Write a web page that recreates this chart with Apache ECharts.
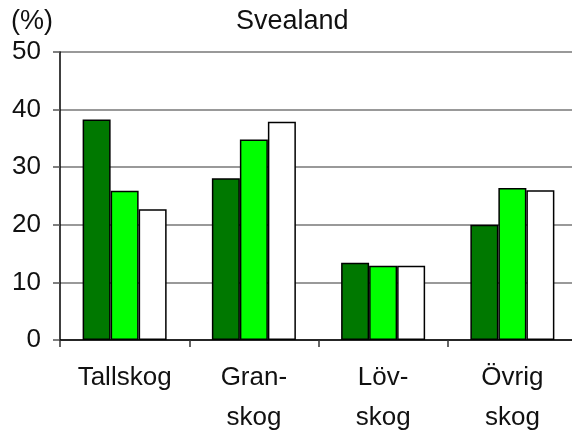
<!DOCTYPE html>
<html><head><meta charset="utf-8">
<script src="https://cdn.jsdelivr.net/npm/echarts@6/dist/echarts.min.js"></script>
<style>html,body{margin:0;padding:0;background:#fff}#c{width:572px;height:433px}</style>
</head><body><div id="c"></div>
<script>
var categories = ["Tallskog", "Gran-\nskog", "Löv-\nskog", "Övrig\nskog"];
var seriesA = [38.3, 28.1, 13.4, 20.0];
var seriesB = [25.9, 34.8, 12.9, 26.4];
var seriesC = [22.7, 37.9, 12.9, 26.0];
var yTicks = [0, 10, 20, 30, 40, 50];

var chart = echarts.init(document.getElementById('c'));
function bar(data, color) {
  return {type: 'bar', data: data, barGap: '0%', barCategoryGap: '35%',
    itemStyle: {color: color, borderColor: '#000', borderWidth: 1.5}, animation: false};
}
var font = 'Liberation Sans';
chart.setOption({
  animation: false,
  title: [
    {text: 'Svealand', left: 231, top: 3, textStyle: {fontFamily: font, fontSize: 27, fontWeight: 'normal', color: '#111'}},
    {text: '(%)', left: 6, top: 3, textStyle: {fontFamily: font, fontSize: 27, fontWeight: 'normal', color: '#111'}}
  ],
  grid: {left: 60, right: -5, top: 52, bottom: 93, containLabel: false, outerBoundsMode: 'none'},
  xAxis: {type: 'category', data: categories,
    axisLine: {lineStyle: {color: '#000', width: 1.5}},
    axisTick: {show: true, alignWithLabel: false, length: 7, lineStyle: {color: '#333', width: 1.5}},
    axisLabel: {fontFamily: font, fontSize: 26, color: '#111', lineHeight: 40, margin: 18}
  },
  yAxis: {type: 'value', min: yTicks[0], max: yTicks[yTicks.length - 1], interval: 10,
    axisLine: {show: true, lineStyle: {color: '#000', width: 1.5}},
    axisTick: {show: true, length: 7, lineStyle: {color: '#555', width: 1.5}},
    axisLabel: {fontFamily: font, fontSize: 26, color: '#111', margin: 19},
    splitLine: {lineStyle: {color: '#777', width: 1.5}}
  },
  series: [bar(seriesA, '#007800'), bar(seriesB, '#00ff00'), bar(seriesC, '#ffffff')]
});
</script></body></html>
